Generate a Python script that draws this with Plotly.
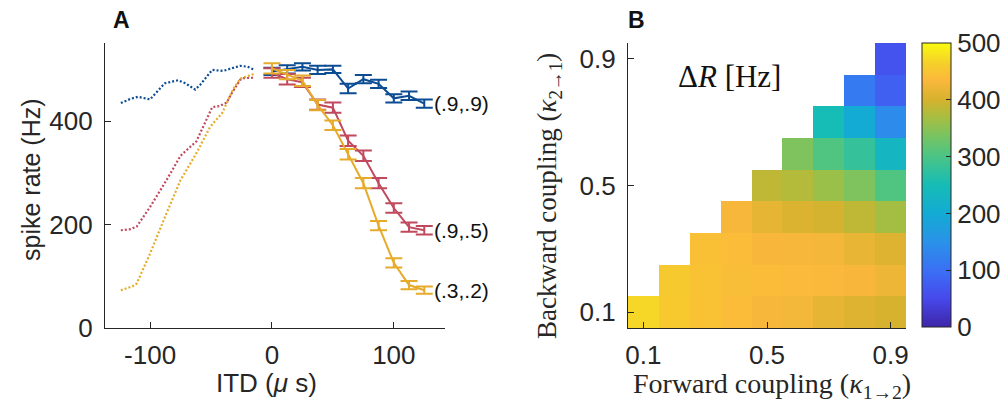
import plotly.graph_objects as go

# page is 1008x411; the html body has an 8px margin, so the figure is 1000x403 placed at (8,8)
OFF = 8
W, H = 1008 - OFF, 411 - OFF

# ---------------- Panel A data ----------------
itd = [0, 12.5, 25, 37.5, 50, 62.5, 75, 87.5, 100, 112.5, 125]
rate_99 = [496, 500, 505, 499, 500, 463, 481, 472, 444, 449, 434]
err_99 = [7, 8, 7, 8, 7, 9, 8, 8, 8, 8, 8]
rate_95 = [493, 481, 475, 432, 426, 362, 333, 280, 232, 195, 189]
err_95 = [9, 10, 9, 10, 10, 10, 10, 10, 9, 9, 8]
rate_32 = [502, 490, 478, 431, 392, 336, 280, 198, 126, 83, 73]
err_32 = [10, 9, 10, 10, 9, 10, 10, 9, 9, 8, 7]

ditd_99 = [-124, -116, -110, -100, -88, -82, -77, -71, -63, -59, -49, -40, -33, -26, -20, -14]
drate_99 = [435, 443, 447, 442, 473, 477, 479, 473, 461, 470, 499, 497, 502, 507, 505, 499]
ditd_95 = [-124, -116, -111, -100, -86, -75, -62, -49, -43, -37, -34, -26, -23, -14]
drate_95 = [189, 191, 196, 234, 288, 333, 361, 427, 429, 436, 450, 480, 483, 484]
ditd_32 = [-124, -114, -111, -100, -86.5, -75, -62, -50.7, -41, -31.5, -26, -20.5, -15]
drate_32 = [73, 81, 86, 144, 222, 286, 338, 389, 415, 463, 482, 487, 491]

series_labels = ["(.9,.9)", "(.9,.5)", "(.3,.2)"]
colors = ["#0B4C93", "#C1495E", "#E6AB2A"]

# ---------------- Panel B data ----------------
kappa = [0.1, 0.2, 0.3, 0.4, 0.5, 0.6, 0.7, 0.8, 0.9]
# rows: backward coupling (y), columns: forward coupling (x)
dR = [
    [470, 456, 448, 440, 430, 427, 415, 408, 400],
    [None, 458, 448, 443, 440, 437, 436, 432, 422],
    [None, None, 445, 440, 432, 430, 428, 418, 408],
    [None, None, None, 430, 415, 405, 398, 385, 367],
    [None, None, None, None, 385, 378, 360, 340, 305],
    [None, None, None, None, None, 340, 305, 280, 230],
    [None, None, None, None, None, None, 250, 200, 140],
    [None, None, None, None, None, None, None, 115, 80],
    [None, None, None, None, None, None, None, None, 62],
]

parula = [
    [0.00, "#3E26A8"], [0.10, "#4748EC"], [0.20, "#3A70F5"], [0.30, "#2A92E8"],
    [0.40, "#13ABD4"], [0.50, "#16BCB6"], [0.60, "#4AC486"], [0.66, "#70C468"],
    [0.74, "#A8BE40"], [0.80, "#D6B22E"], [0.87, "#FBB83C"], [0.93, "#F5D02A"],
    [1.00, "#F9FB0E"],
]

AX = "#262626"
SANS = "Liberation Sans, Arial, sans-serif"
SERIF = "Liberation Serif, Times New Roman, serif"
TICK = 26


def px_x(p):
    return (p - OFF) / W


def px_y(p):
    return 1 - (p - OFF) / H


fig = go.Figure()

# dotted curves
for xs, ys, c in [(ditd_99, drate_99, colors[0]), (ditd_95, drate_95, colors[1]), (ditd_32, drate_32, colors[2])]:
    fig.add_trace(go.Scatter(x=xs, y=ys, mode="lines", line=dict(color=c, width=2.2, dash="2px,2px"),
                             xaxis="x", yaxis="y", showlegend=False, hoverinfo="skip"))
# solid with error bars
for ys, es, c in [(rate_99, err_99, colors[0]), (rate_95, err_95, colors[1]), (rate_32, err_32, colors[2])]:
    fig.add_trace(go.Scatter(x=itd, y=ys, mode="lines", line=dict(color=c, width=2),
                             error_y=dict(type="data", array=es, visible=True, color=c, thickness=2, width=8.5),
                             xaxis="x", yaxis="y", showlegend=False))

# heatmap
fig.add_trace(go.Heatmap(
    x=kappa, y=kappa, z=dR, colorscale=parula, zmin=0, zmax=500,
    xaxis="x2", yaxis="y2", hoverongaps=False,
    colorbar=dict(
        x=px_x(922), xanchor="left", xpad=0,
        y=px_y(43), yanchor="top", ypad=0,
        len=(327 - 43) / H, lenmode="fraction",
        thickness=29, thicknessmode="pixels",
        outlinecolor=AX, outlinewidth=1,
        ticks="inside", ticklen=5, tickcolor=AX,
        tickvals=[0, 100, 200, 300, 400, 500],
        tickfont=dict(family=SANS, size=TICK, color=AX),
    ),
))

axis_common = dict(showgrid=False, zeroline=False, showline=True, linecolor=AX, linewidth=1.3,
                   ticks="inside", ticklen=6, tickcolor=AX, tickwidth=1.3,
                   tickfont=dict(family=SANS, size=TICK, color=AX), automargin=False)

fig.update_layout(
    width=W, height=H,
    margin=dict(l=0, r=0, t=0, b=0),
    paper_bgcolor="white", plot_bgcolor="white",
    showlegend=False,
    xaxis=dict(domain=[px_x(105), px_x(445)], range=[-137, 142], anchor="y",
               tickvals=[-100, 0, 100], ticktext=["-100", "0", "100"], ticklabelstandoff=4,
               **axis_common),
    yaxis=dict(domain=[px_y(328), px_y(43)], range=[0, 551], anchor="x",
               tickvals=[0, 200, 400], ticklabelstandoff=6, **axis_common),
    xaxis2=dict(domain=[px_x(628), px_x(906)], range=[0.05, 0.95], anchor="y2",
                tickvals=[0.1, 0.5, 0.9], ticktext=["0.1", "0.5", "0.9"], ticklabelstandoff=4,
                **axis_common),
    yaxis2=dict(domain=[px_y(328), px_y(43)], range=[0.05, 0.95], anchor="x2",
                tickvals=[0.1, 0.5, 0.9], ticktext=["0.1", "0.5", "0.9"], ticklabelstandoff=6,
                **axis_common),
)

ann = []
for lab, yv in zip(series_labels, [rate_99[-1], rate_95[-1], rate_32[-1]]):
    ann.append(dict(x=131, y=yv, xref="x", yref="y", text=lab, showarrow=False,
                    xanchor="left", yanchor="middle", font=dict(family=SANS, size=21, color="#111111")))
ann.append(dict(x=px_x(121), y=px_y(20), xref="paper", yref="paper", text="<b>A</b>", showarrow=False,
                xanchor="center", yanchor="middle", font=dict(family=SANS, size=23, color="#111111")))
ann.append(dict(x=px_x(636), y=px_y(20), xref="paper", yref="paper", text="<b>B</b>", showarrow=False,
                xanchor="center", yanchor="middle", font=dict(family=SANS, size=23, color="#111111")))
ann.append(dict(x=px_x(266), y=px_y(383), xref="paper", yref="paper", text="ITD (<i>μ</i> s)", showarrow=False,
                xanchor="center", yanchor="middle", font=dict(family=SANS, size=26, color=AX)))
ann.append(dict(x=px_x(31), y=px_y(180), xref="paper", yref="paper", text="spike rate (Hz)", showarrow=False,
                textangle=-90, xanchor="center", yanchor="middle", font=dict(family=SANS, size=25, color=AX)))
ann.append(dict(x=px_x(772), y=px_y(385), xref="paper", yref="paper",
                text="Forward coupling (<i>κ</i><sub>1→2</sub>)", showarrow=False,
                xanchor="center", yanchor="middle", font=dict(family=SERIF, size=28, color=AX)))
ann.append(dict(x=px_x(549), y=px_y(196), xref="paper", yref="paper",
                text="Backward coupling (<i>κ</i><sub>2→1</sub>)", showarrow=False, textangle=-90,
                xanchor="center", yanchor="middle", font=dict(family=SERIF, size=27, color=AX)))
ann.append(dict(x=px_x(729), y=px_y(76), xref="paper", yref="paper",
                text="Δ<i>R</i> [Hz]", showarrow=False,
                xanchor="center", yanchor="middle", font=dict(family=SERIF, size=31, color="#111111")))
fig.update_layout(annotations=ann)

fig.write_html("out.html")
